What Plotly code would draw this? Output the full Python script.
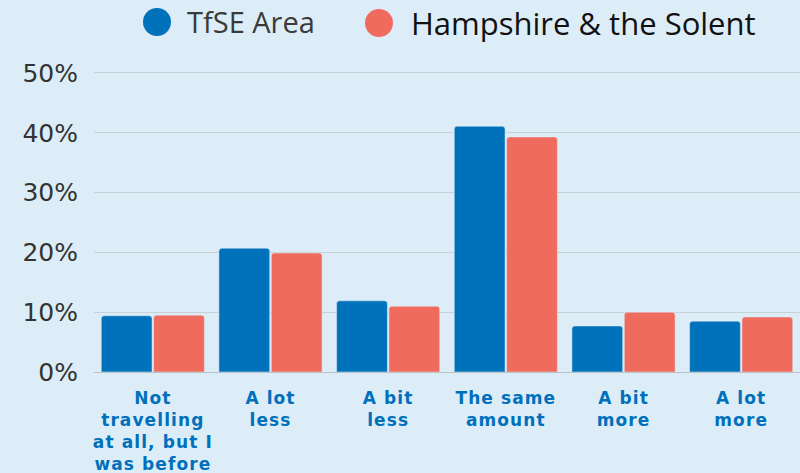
import plotly.graph_objects as go

categories = ["Not<br>travelling<br>at all, but I<br>was before", "A lot<br>less", "A bit<br>less",
              "The same<br>amount", "A bit<br>more", "A lot<br>more"]
tfse_area = [9.4, 20.7, 11.9, 41.1, 7.7, 8.5]
hampshire = [9.5, 19.9, 11.0, 39.3, 10.0, 9.2]
series_names = ["TfSE Area", "Hampshire & the Solent"]
y_ticks = [0, 10, 20, 30, 40, 50]
y_tick_labels = ["0%", "10%", "20%", "30%", "40%", "50%"]

blue = "#0072bc"
salmon = "#ef6b5e"
bg = "#dcedf7"

W, H = 800, 473
L, R, T, B = 94, 0, 64, 101
plot_w = W - L - R
plot_h = H - T - B

def px_x(px):
    return (px - L) / plot_w

def px_y(py):
    return (H - B - py) / plot_h

def spaced(label):
    return "<br>".join('<span style="letter-spacing:1.1px">' + ln + '</span>' for ln in label.split("<br>"))

fig = go.Figure()
fig.add_trace(go.Bar(x=categories, y=tfse_area, marker_color=blue, showlegend=False, name=series_names[0]))
fig.add_trace(go.Bar(x=categories, y=hampshire, marker_color=salmon, showlegend=False, name=series_names[1]))

# manual legend (circles + labels)
legend_items = [
    (series_names[0], blue, 157, 22, 185, 29, "#3a3a3a"),
    (series_names[1], salmon, 379, 23, 409, 31, "#111111"),
]
for name, color, cx, cy, tx, fs, tc in legend_items:
    fig.add_shape(type="circle", xref="paper", yref="paper", xsizemode="pixel", ysizemode="pixel",
                  xanchor=px_x(cx), yanchor=px_y(cy), x0=-14, x1=14, y0=-14, y1=14,
                  fillcolor=color, line_width=0, layer="above")
    fig.add_annotation(text=name, xref="paper", yref="paper", x=px_x(tx), y=px_y(cy),
                       xanchor="left", yanchor="middle", showarrow=False,
                       font=dict(family="Open Sans, sans-serif", size=fs, color=tc))

fig.update_layout(
    width=W, height=H,
    paper_bgcolor=bg, plot_bgcolor=bg,
    margin=dict(l=L, r=R, t=T, b=B, autoexpand=False),
    barmode="group", bargap=0.11, bargroupgap=0.03, barcornerradius=3,
    showlegend=False,
    font=dict(family="DejaVu Sans, sans-serif", color="#333"),
    xaxis=dict(showgrid=False, automargin=False,
               tickvals=categories, ticktext=[spaced(c) for c in categories],
               tickfont=dict(family="DejaVu Sans, sans-serif", size=17, color="#0070bc", weight="bold"),
               ticklabelstandoff=14, showline=False, zeroline=False),
    yaxis=dict(range=[0, 51.5], tickvals=y_ticks, ticktext=y_tick_labels, automargin=False,
               tickfont=dict(family="DejaVu Sans, sans-serif", size=25, color="#333"),
               gridcolor="#c8d1d6", gridwidth=1,
               zeroline=True, zerolinecolor="#b9c2c7", zerolinewidth=1, ticklabelstandoff=15),
)
fig.write_html("out.html", config={"displayModeBar": False},
               post_script="document.body.style.margin='0';document.body.style.overflow='hidden';")
